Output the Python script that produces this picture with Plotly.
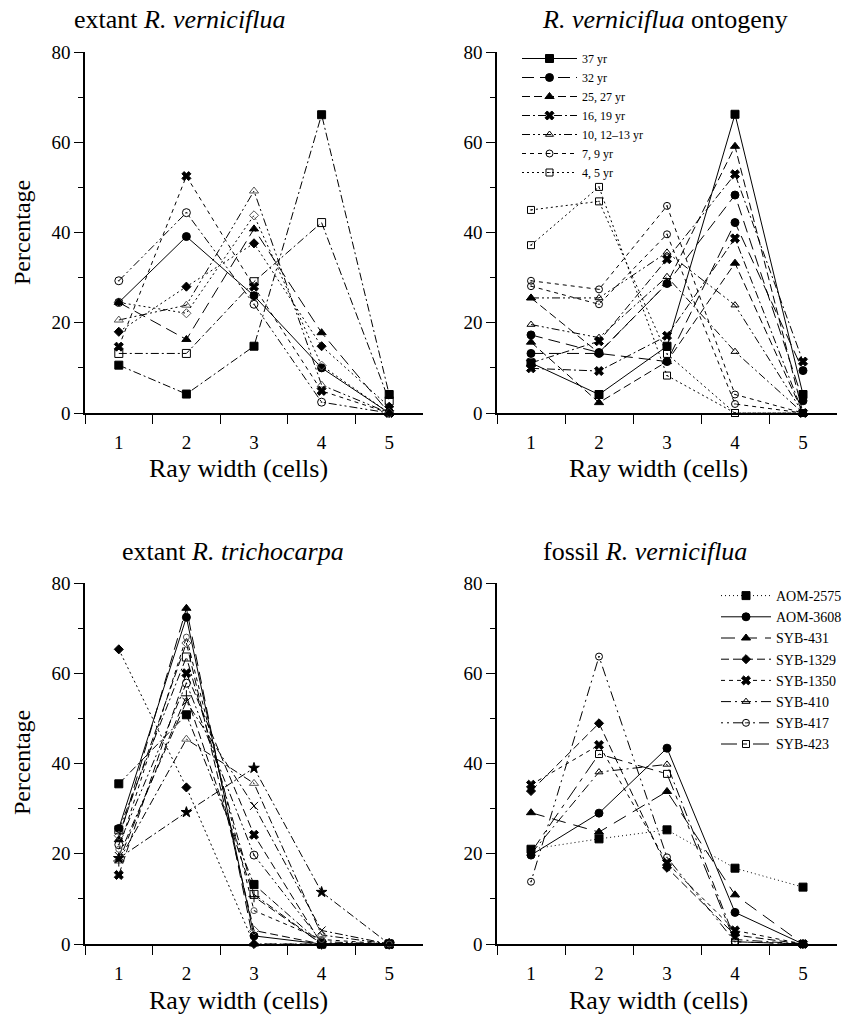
import plotly.graph_objects as go

# ---------------- data ----------------
ray_width = [1, 2, 3, 4, 5]
y_ticks = [0, 20, 40, 60, 80]

# Panel A: extant R. verniciflua (individual trees)
ev_sq_fill = [10.6, 4.2, 14.8, 66.1, 4.1]
ev_circ_fill = [24.5, 39.1, 26.0, 10.0, 0.0]
ev_tri_open = [20.6, 23.9, 49.2, 6.2, 0.0]
ev_diamond = [18.0, 28.0, 37.6, 14.8, 1.4]
ev_x = [14.7, 52.5, 28.0, 4.9, 0.0]
ev_sq_open = [13.2, 13.2, 29.1, 42.2, 2.7]
ev_circ_dot = [29.3, 44.4, 24.1, 2.4, 0.0]
ev_diam_open = [24.5, 22.1, 43.8, 10.5, 0.0]
ev_tri_fill = [24.5, 16.3, 40.8, 17.8, 0.0]

# Panel B: R. verniciflua ontogeny
on_labels = ["37 yr", "32 yr", "25, 27 yr", "16, 19 yr", "10, 12\u201313 yr", "7, 9 yr", "4, 5 yr"]
on_37 = [11.1, 4.1, 14.8, 66.2, 4.1]
on_32a = [17.3, 13.4, 28.7, 48.3, 2.7]
on_32b = [13.2, 13.2, 11.4, 42.2, 9.4]
on_25a = [25.5, 13.3, 28.7, 59.1, 0.0]
on_25b = [15.7, 2.3, 11.4, 33.2, 0.0]
on_16a = [11.1, 15.9, 34.1, 52.9, 11.4]
on_16b = [9.9, 9.3, 17.1, 38.7, 0.0]
on_10a = [25.5, 25.5, 35.6, 23.9, 0.0]
on_10b = [19.6, 16.7, 30.2, 13.6, 0.0]
on_7a = [29.3, 27.4, 45.9, 4.1, 0.0]
on_7b = [28.1, 24.1, 39.6, 2.0, 0.0]
on_4a = [45.0, 46.9, 13.1, 0.0, 0.0]
on_4b = [37.2, 50.1, 8.3, 0.0, 0.0]

# Panel C: extant R. trichocarpa
tr_tri_fill = [23.1, 74.4, 0.0, 0.0, 0.0]
tr_circ_fill = [25.6, 72.4, 1.8, 0.0, 0.0]
tr_diam_open = [24.0, 66.7, 3.0, 0.0, 0.0]
tr_sq_open = [25.3, 63.6, 11.0, 0.0, 0.0]
tr_x = [15.3, 60.0, 24.2, 0.0, 0.0]
tr_circ_open = [22.0, 57.8, 19.7, 0.5, 0.0]
tr_x_thin = [19.5, 53.7, 30.6, 3.0, 0.0]
tr_sq_fill = [35.5, 50.8, 13.2, 0.0, 0.0]
tr_tri_open = [18.4, 45.4, 35.6, 2.0, 0.0]
tr_diamond = [65.3, 34.7, 0.0, 0.0, 0.0]
tr_star = [19.0, 29.2, 39.0, 11.5, 0.0]
tr_plus = [18.4, 55.0, 10.5, 0.0, 0.0]
tr_circ_small = [21.0, 68.0, 7.4, 1.0, 0.0]

# Panel D: fossil R. verniciflua
fo_labels = ["AOM-2575", "AOM-3608", "SYB-431", "SYB-1329", "SYB-1350", "SYB-410", "SYB-417", "SYB-423"]
fo_aom2575 = [21.0, 23.3, 25.3, 16.8, 12.6]
fo_aom3608 = [19.7, 29.0, 43.4, 7.0, 0.0]
fo_syb431 = [29.1, 24.8, 33.8, 10.9, 0.0]
fo_syb1329 = [33.9, 48.9, 16.9, 2.0, 0.0]
fo_syb1350 = [35.3, 44.1, 18.0, 3.0, 0.0]
fo_syb410 = [20.0, 38.1, 39.8, 1.0, 0.0]
fo_syb417 = [13.8, 63.7, 19.2, 0.5, 0.0]
fo_syb423 = [20.3, 42.1, 37.7, 0.5, 0.0]

# ---------------- styles ----------------
FONT = "Liberation Serif"
BLACK = "black"
GREY = "#555555"

D_SOLID = "solid"
D_LONG = "12px,6px"
D_DASH = "8px,4px"
D_DASHDOT = "8px,3px,2px,3px"
D_DASHDOTDOT = "8px,3px,2px,3px,2px,3px"
D_SHORT = "4px,4px"
D_DOT = "2px,3px"

fig = go.Figure()


def add(xa, ya, y, sym, dash, size=8, color=BLACK, name=None, legend=None,
        group=None, show=False):
    fig.add_trace(go.Scatter(
        x=ray_width, y=y, xaxis=xa, yaxis=ya, mode="lines+markers",
        line=dict(color=BLACK, width=1, dash=dash),
        marker=dict(symbol=sym, size=size, color=color,
                    line=dict(color=color, width=1)),
        name=name, legendgroup=group, showlegend=show,
        legend=legend if legend else "legend",
        cliponaxis=False,
    ))


# Panel A
add("x", "y", ev_sq_fill, "square", D_DASHDOT)
add("x", "y", ev_circ_fill, "circle", D_SOLID)
add("x", "y", ev_tri_open, "triangle-up-open", D_DASHDOTDOT, color=GREY)
add("x", "y", ev_diamond, "diamond", D_DOT, size=7)
add("x", "y", ev_x, "x", D_SHORT, size=8)
add("x", "y", ev_sq_open, "square-open", D_DASHDOT)
add("x", "y", ev_circ_dot, "circle-open-dot", D_DASHDOTDOT, size=8)
add("x", "y", ev_diam_open, "diamond-open", D_DOT, size=7, color=GREY)
add("x", "y", ev_tri_fill, "triangle-up", D_LONG)

# Panel B (legend)
on_series = [
    (on_37, "square", D_SOLID, 0),
    (on_32a, "circle", D_LONG, 1), (on_32b, "circle", D_LONG, 1),
    (on_25a, "triangle-up", D_DASH, 2), (on_25b, "triangle-up", D_DASH, 2),
    (on_16a, "x", D_DASHDOT, 3), (on_16b, "x", D_DASHDOT, 3),
    (on_10a, "triangle-up-open", D_DASHDOTDOT, 4), (on_10b, "triangle-up-open", D_DASHDOTDOT, 4),
    (on_7a, "circle-open-dot", D_SHORT, 5), (on_7b, "circle-open-dot", D_SHORT, 5),
    (on_4a, "square-open-dot", D_DOT, 6), (on_4b, "square-open-dot", D_DOT, 6),
]
seen = set()
for y, sym, dash, gi in on_series:
    show = gi not in seen
    seen.add(gi)
    add("x2", "y2", y, sym, dash, size=7 if "open" in sym else 8,
        name=on_labels[gi], legend="legend", group="on%d" % gi, show=show)

# Panel C
add("x3", "y3", tr_tri_fill, "triangle-up", D_LONG)
add("x3", "y3", tr_circ_fill, "circle", D_SOLID)
add("x3", "y3", tr_diam_open, "diamond-open", D_DASH, size=7, color=GREY)
add("x3", "y3", tr_sq_open, "square-open", D_DASHDOT)
add("x3", "y3", tr_x, "x", D_DASH)
add("x3", "y3", tr_circ_open, "circle-open-dot", D_DASHDOTDOT)
add("x3", "y3", tr_x_thin, "x-thin-open", D_DASHDOT, size=8)
add("x3", "y3", tr_sq_fill, "square", D_DASHDOT)
add("x3", "y3", tr_tri_open, "triangle-up-open", D_DASHDOT, color=GREY)
add("x3", "y3", tr_diamond, "diamond", D_DOT, size=7)
add("x3", "y3", tr_star, "star", D_DASHDOT, size=8)
add("x3", "y3", tr_plus, "cross-thin-open", D_DASH, size=8)
add("x3", "y3", tr_circ_small, "circle-open", D_SHORT, size=6, color=GREY)

# Panel D (legend2)
fo_series = [
    (fo_aom2575, "square", "1px,3px"),
    (fo_aom3608, "circle", D_SOLID),
    (fo_syb431, "triangle-up", "14px,8px"),
    (fo_syb1329, "diamond", D_DASH),
    (fo_syb1350, "x", D_SHORT),
    (fo_syb410, "triangle-up-open", "10px,4px,2px,4px"),
    (fo_syb417, "circle-open-dot", "2px,4px,2px,4px,10px,4px"),
    (fo_syb423, "square-open", "16px,6px,4px,6px"),
]
for (y, sym, dash), nm in zip(fo_series, fo_labels):
    add("x4", "y4", y, sym, dash, size=7 if ("open" in sym or sym == "diamond") else 8,
        name=nm, legend="legend2", group=nm, show=True)

# ---------------- layout ----------------
W, H = 842, 1016


def px_x(p):
    return p / W


def px_y(p):
    return (H - p) / H


xdom_left = [px_x(85), px_x(423)]
xdom_right = [px_x(497), px_x(837)]
ydom_top = [px_y(413), px_y(52)]
ydom_bot = [px_y(944), px_y(583)]


def xaxis(dom, anchor):
    return dict(
        domain=dom, anchor=anchor, range=[0.5, 5.5], tickvals=ray_width,
        ticktext=[str(v) for v in ray_width], ticks="", showline=True,
        linecolor=BLACK, linewidth=1.5, showgrid=False, zeroline=False,
        automargin=False,
        ticklabelstandoff=11, tickfont=dict(family=FONT, size=19, color=BLACK),
        minor=dict(tickvals=[0.5, 1.5, 2.5, 3.5, 4.5], ticks="outside",
                   ticklen=9, tickwidth=1, tickcolor=BLACK, showgrid=False),
    )


def yaxis(dom, anchor):
    return dict(
        domain=dom, anchor=anchor, range=[0, 80], tickvals=y_ticks,
        ticks="outside", ticklen=9, tickwidth=1, tickcolor=BLACK,
        showline=True, linecolor=BLACK, linewidth=1.5, showgrid=False,
        zeroline=False, automargin=False,
        tickfont=dict(family=FONT, size=19, color=BLACK),
        minor=dict(tickvals=[10, 30, 50, 70], ticks="outside", ticklen=5,
                   tickwidth=1, tickcolor=BLACK, showgrid=False),
    )


fig.update_layout(
    width=W, height=H,
    margin=dict(l=0, r=0, t=0, b=0, pad=0, autoexpand=False),
    paper_bgcolor="white", plot_bgcolor="white",
    font=dict(family=FONT, color=BLACK),
    xaxis=xaxis(xdom_left, "y"), yaxis=yaxis(ydom_top, "x"),
    xaxis2=xaxis(xdom_right, "y2"), yaxis2=yaxis(ydom_top, "x2"),
    xaxis3=xaxis(xdom_left, "y3"), yaxis3=yaxis(ydom_bot, "x3"),
    xaxis4=xaxis(xdom_right, "y4"), yaxis4=yaxis(ydom_bot, "x4"),
    legend=dict(x=px_x(517), y=px_y(44), xanchor="left", yanchor="top",
                bgcolor="rgba(0,0,0,0)",
                font=dict(family=FONT, size=12, color=BLACK),
                tracegroupgap=0, itemwidth=55),
    legend2=dict(x=px_x(716), y=px_y(580), xanchor="left", yanchor="top",
                 bgcolor="rgba(0,0,0,0)",
                 font=dict(family=FONT, size=14, color=BLACK),
                 tracegroupgap=0, itemwidth=50),
)

annots = [
    ("extant <i>R. verniciflua</i>", 180, 20, 0, 26),
    ("<i>R. verniciflua</i> ontogeny", 665, 20, 0, 26),
    ("extant <i>R. trichocarpa</i>", 233, 552, 0, 26),
    ("fossil <i>R. verniciflua</i>", 645, 552, 0, 26),
    ("Ray width (cells)", 238, 469, 0, 26),
    ("Ray width (cells)", 658, 469, 0, 26),
    ("Ray width (cells)", 238, 1000, 0, 26),
    ("Ray width (cells)", 658, 1000, 0, 26),
    ("Percentage", 22, 233, -90, 24),
    ("Percentage", 22, 763, -90, 24),
]
for txt, ax, ay, rot, sz in annots:
    fig.add_annotation(text=txt, x=px_x(ax), y=px_y(ay), xref="paper",
                       yref="paper", showarrow=False, textangle=rot,
                       xanchor="center", yanchor="middle",
                       font=dict(family=FONT, size=sz, color=BLACK))

# remove the default 8 px page margin so the figure fills the window exactly
fig.write_html("out.html", config={"displayModeBar": False},
               post_script="document.body.style.margin='0px';")
